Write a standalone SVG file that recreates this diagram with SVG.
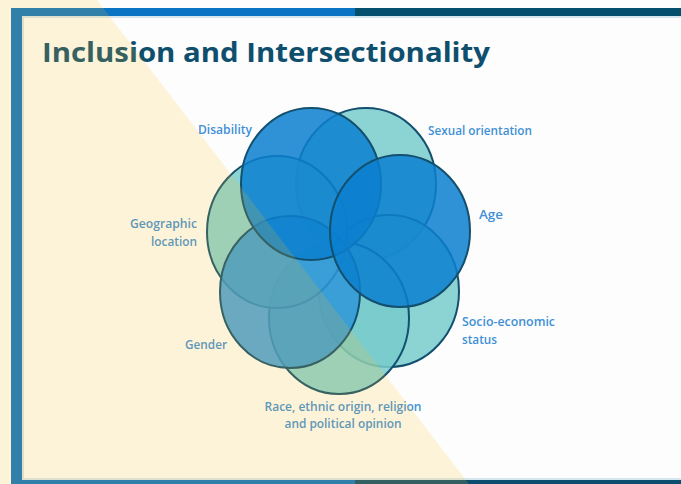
<svg xmlns="http://www.w3.org/2000/svg" width="681" height="484" viewBox="0 0 681 484">
  <style>
    .lbl { font-family: "Open Sans", "Noto Sans", sans-serif; font-size: 12px; font-weight: 600; fill: #3f90d6; }
    .title { font-family: "Open Sans", "Noto Sans", sans-serif; font-weight: 700; font-size: 26px; fill: #0f4f6e; }
    .petal { stroke: #13506f; stroke-width: 2; fill-opacity: 0.85; }
    .dark { fill: #0a7fcf; }
    .teal { fill: #78cbcb; }
    .mid { fill: #2f95d8; }
  </style>

  <!-- slide page -->
  <rect x="0" y="0" width="681" height="484" fill="#fdfdfd"/>

  <!-- slide frame: left border, top and bottom bars -->
  <g id="frame">
    <rect x="11" y="8" width="11" height="476" fill="#0a74c4"/>
    <rect x="11" y="8" width="344" height="8" fill="#0a74c4"/>
    <rect x="355" y="8" width="326" height="8" fill="#044f6e"/>
    <rect x="11" y="480" width="344" height="4" fill="#0a74c4"/>
    <rect x="355" y="480" width="326" height="4" fill="#0b4d6e"/>
    <rect x="22" y="16" width="659" height="2" fill="#d6e6ee"/>
    <rect x="22" y="16" width="2" height="464" fill="#d6e6ee"/>
    <rect x="22" y="478" width="659" height="2" fill="#d6e6ee"/>
  </g>

  <text class="title" x="42" y="62" textLength="448" lengthAdjust="spacingAndGlyphs">Inclusion and Intersectionality</text>

  <!-- flower of overlapping petals -->
  <g id="sexual-orientation">
    <ellipse class="petal teal" cx="366" cy="184" rx="70" ry="76"/>
    <text class="lbl" x="428" y="135" textLength="104" lengthAdjust="spacingAndGlyphs">Sexual orientation</text>
  </g>
  <g id="socio-economic">
    <ellipse class="petal teal" cx="389" cy="291" rx="70" ry="76"/>
    <text class="lbl" x="462" y="326" textLength="93" lengthAdjust="spacingAndGlyphs">Socio-economic</text>
    <text class="lbl" x="462" y="344" textLength="35" lengthAdjust="spacingAndGlyphs">status</text>
  </g>
  <g id="race">
    <ellipse class="petal teal" cx="339" cy="318" rx="70" ry="76"/>
    <text class="lbl" x="343" y="411" text-anchor="middle" textLength="157" lengthAdjust="spacingAndGlyphs">Race, ethnic origin, religion</text>
    <text class="lbl" x="343" y="428" text-anchor="middle" textLength="117" lengthAdjust="spacingAndGlyphs">and political opinion</text>
  </g>
  <g id="geographic-location">
    <ellipse class="petal teal" cx="277" cy="232" rx="70" ry="76"/>
    <text class="lbl" x="197" y="228" text-anchor="end" textLength="67" lengthAdjust="spacingAndGlyphs">Geographic</text>
    <text class="lbl" x="197" y="246" text-anchor="end" textLength="46" lengthAdjust="spacingAndGlyphs">location</text>
  </g>
  <g id="gender">
    <ellipse class="petal mid" cx="290" cy="292" rx="70" ry="76"/>
    <text class="lbl" x="227" y="349" text-anchor="end" textLength="42" lengthAdjust="spacingAndGlyphs">Gender</text>
  </g>
  <g id="disability">
    <ellipse class="petal dark" cx="311" cy="184" rx="70" ry="76"/>
    <text class="lbl" x="252" y="134" text-anchor="end" textLength="54" lengthAdjust="spacingAndGlyphs">Disability</text>
  </g>
  <g id="age">
    <ellipse class="petal dark" cx="400" cy="231" rx="70" ry="76"/>
    <text class="lbl" x="479" y="219" textLength="24" lengthAdjust="spacingAndGlyphs">Age</text>
  </g>

  <!-- warm translucent wedge laid across the left of the slide -->
  <polygon points="0,0 97,0 469,484 0,484" fill="#ffc21f" fill-opacity="0.16"/>
</svg>
